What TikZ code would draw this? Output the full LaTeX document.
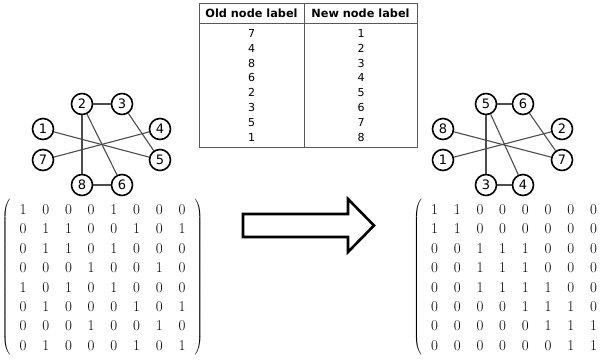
\documentclass[tikz,border=0pt]{standalone}
\usepackage{fontspec}
\newfontfamily\verd{DejaVu Sans}
\usetikzlibrary{matrix}

\begin{document}
\begin{tikzpicture}[x=1pt, y=-1pt,
  vert/.style={draw, circle, line width=1.6pt, minimum size=21pt, inner sep=0pt, font=\verd\fontsize{13}{13}\selectfont},
  link/.style={draw=black!70, line width=1.1pt},
  tab/.style={draw=black!65, line width=0.9pt},
  head/.style={font=\verd\bfseries\fontsize{11.3}{11.3}\selectfont},
  cell/.style={font=\verd\fontsize{11}{11}\selectfont},
  adj/.style={matrix of nodes, column sep=0pt, row sep=0pt, inner sep=0pt,
    nodes={minimum width=22.7pt, minimum height=19.3pt, inner sep=0pt, font=\fontsize{15}{15}\selectfont}},
  bigarrow/.style={draw, line width=2.6pt, line join=miter}]
\useasboundingbox (0,0) rectangle (600,361);

% old labelling
\node (a2)[vert] at (82,104) {2};
\node (a3)[vert] at (122,104) {3};
\node (a1)[vert] at (43,129) {1};
\node (a4)[vert] at (160,129) {4};
\node (a7)[vert] at (43,160) {7};
\node (a5)[vert] at (160,160) {5};
\node (a8)[vert] at (82,185) {8};
\node (a6)[vert] at (122,185) {6};
\path[link] (a2) edge (a3)
            (a2) edge (a8)
            (a2) edge (a6)
            (a3) edge (a5)
            (a1) edge (a5)
            (a7) edge (a4)
            (a8) edge (a6);

% new labelling
\node (b5)[vert] at (486,104) {5};
\node (b6)[vert] at (523,104) {6};
\node (b8)[vert] at (443,129) {8};
\node (b2)[vert] at (562,129) {2};
\node (b1)[vert] at (443,160) {1};
\node (b7)[vert] at (562,160) {7};
\node (b3)[vert] at (486,185) {3};
\node (b4)[vert] at (523,185) {4};
\path[link] (b5) edge (b6)
            (b5) edge (b3)
            (b5) edge (b4)
            (b6) edge (b7)
            (b8) edge (b7)
            (b1) edge (b2)
            (b3) edge (b4);

% relabelling table
\draw[tab] (199,3) rectangle (417,147);
\draw[tab] (199,23) -- (417,23);
\draw[tab] (304,3) -- (304,147);
\node (h1)[head] at (251.5,13) {Old node label};
\node (h2)[head] at (360.5,13) {New node label};
\foreach \o [count=\i] in {7,4,8,6,2,3,5,1} {
  \node (o\i)[cell] at (251.5,{33.3+14.85*(\i-1)}) {\o};
  \node (n\i)[cell] at (361,{33.3+14.85*(\i-1)}) {\i};
}

% adjacency matrices
\matrix (m1)[adj, left delimiter=(, right delimiter=)] at (102.5,277.5) {
1 & 0 & 0 & 0 & 1 & 0 & 0 & 0 \\
0 & 1 & 1 & 0 & 0 & 1 & 0 & 1 \\
0 & 1 & 1 & 0 & 1 & 0 & 0 & 0 \\
0 & 0 & 0 & 1 & 0 & 0 & 1 & 0 \\
1 & 0 & 1 & 0 & 1 & 0 & 0 & 0 \\
0 & 1 & 0 & 0 & 0 & 1 & 0 & 1 \\
0 & 0 & 0 & 1 & 0 & 0 & 1 & 0 \\
0 & 1 & 0 & 0 & 0 & 1 & 0 & 1 \\
};
\matrix (m2)[adj, left delimiter=(] at (514,277.5) {
1 & 1 & 0 & 0 & 0 & 0 & 0 & 0 \\
1 & 1 & 0 & 0 & 0 & 0 & 0 & 0 \\
0 & 0 & 1 & 1 & 1 & 0 & 0 & 0 \\
0 & 0 & 1 & 1 & 1 & 0 & 0 & 0 \\
0 & 0 & 1 & 1 & 1 & 1 & 0 & 0 \\
0 & 0 & 0 & 0 & 1 & 1 & 1 & 0 \\
0 & 0 & 0 & 0 & 0 & 1 & 1 & 1 \\
0 & 0 & 0 & 0 & 0 & 0 & 1 & 1 \\
};

% block arrow
\draw[bigarrow] (243,214) -- (348,214) -- (348,199) -- (374,225.5)
  -- (348,252) -- (348,237) -- (243,237) -- cycle;
\end{tikzpicture}
\end{document}
